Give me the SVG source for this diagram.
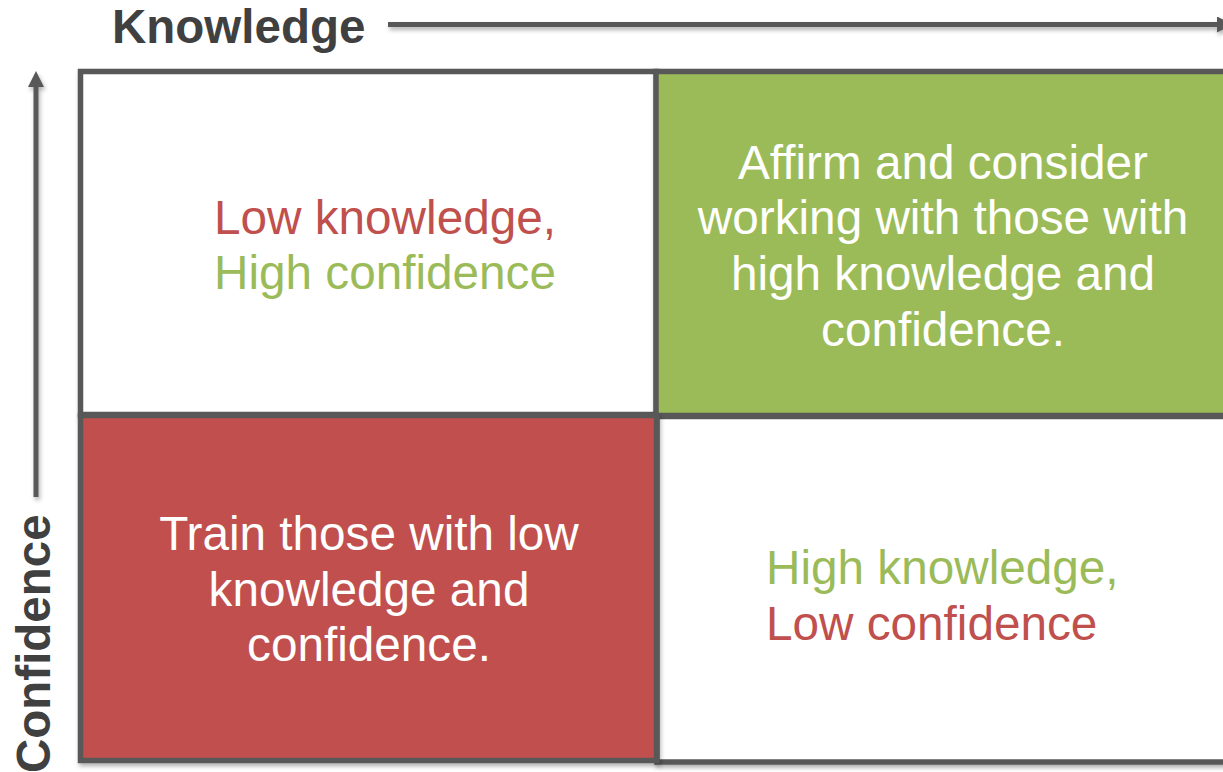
<svg xmlns="http://www.w3.org/2000/svg" width="1223" height="772" viewBox="0 0 1223 772">
  <style>
    .cell { stroke: #595959; stroke-width: 5.5; filter: url(#shade); }
    .axis { stroke: #595959; stroke-width: 5; fill: none; marker-end: url(#head); filter: url(#shade-axis); }
    .title { font-family: "Liberation Sans", Arial, sans-serif; font-weight: bold; font-size: 47.5px; fill: #404040; }
    .body { font-family: "Liberation Sans", Arial, sans-serif; font-size: 47.7px; }
    .white { fill: #ffffff; }
    .red { fill: #c0504d; }
    .green { fill: #9bbb59; }
  </style>
  <defs>
    <filter id="shade" x="-5%" y="-5%" width="110%" height="115%">
      <feDropShadow dx="1.5" dy="3" stdDeviation="2" flood-color="#000000" flood-opacity="0.3"/>
    </filter>
    <!-- lines have a zero-size box, so this one works in canvas units -->
    <filter id="shade-axis" filterUnits="userSpaceOnUse" x="0" y="0" width="1223" height="772">
      <feDropShadow dx="1.5" dy="3" stdDeviation="2" flood-color="#000000" flood-opacity="0.3"/>
    </filter>
    <marker id="head" viewBox="0 0 16 16" refX="0" refY="8" markerWidth="16" markerHeight="16" markerUnits="userSpaceOnUse" orient="auto">
      <path d="M0,0 L16,8 L0,16 z" fill="#595959"/>
    </marker>
  </defs>

  <rect width="1223" height="772" fill="#ffffff"/>

  <!-- axes -->
  <g id="axes">
    <line class="axis" x1="388" y1="24.5" x2="1217" y2="24.5"/>
    <line class="axis" x1="36" y1="497" x2="36" y2="87"/>
  </g>

  <text class="title" x="112" y="42.5">Knowledge</text>
  <text class="title" transform="translate(50,773) rotate(-90)" x="0" y="0">Confidence</text>

  <!-- low knowledge, high confidence -->
  <g id="q-low-know-high-conf">
    <rect class="cell" x="80.5" y="71.5" width="576" height="343" fill="#ffffff"/>
    <text class="body" x="214" y="233.5"><tspan class="red">Low knowledge,</tspan><tspan class="green" x="214" y="289">High confidence</tspan></text>
  </g>

  <!-- high knowledge, high confidence (no whitespace between lines so each stays centred) -->
  <g id="q-high-know-high-conf">
    <rect class="cell" x="656" y="71.5" width="580" height="344" fill="#9bbb59"/>
    <text class="body white" text-anchor="middle"><tspan x="943" y="178.5">Affirm and consider</tspan><tspan x="943" y="234">working with those with</tspan><tspan x="943" y="290">high knowledge and</tspan><tspan x="943" y="345.5">confidence.</tspan></text>
  </g>

  <!-- high knowledge, low confidence -->
  <g id="q-high-know-low-conf">
    <rect class="cell" x="657" y="416.5" width="580" height="345.5" fill="#ffffff"/>
    <text class="body" x="766" y="583.5"><tspan class="green">High knowledge,</tspan><tspan class="red" x="766" y="639.5">Low confidence</tspan></text>
  </g>

  <!-- low knowledge, low confidence -->
  <g id="q-low-know-low-conf">
    <rect class="cell" x="80.5" y="415.5" width="576" height="345" fill="#c0504d"/>
    <text class="body white" text-anchor="middle"><tspan x="369" y="550">Train those with low</tspan><tspan x="369" y="605.5">knowledge and</tspan><tspan x="369" y="661">confidence.</tspan></text>
  </g>
</svg>
